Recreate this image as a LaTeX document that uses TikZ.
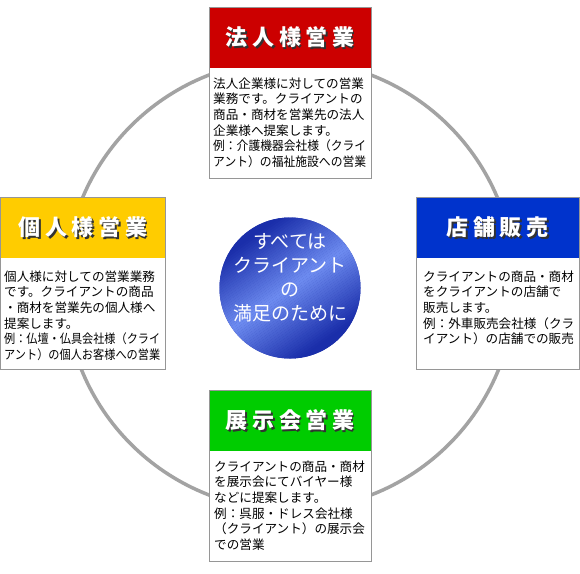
\documentclass[tikz,border=0pt]{standalone}
\usepackage{fontspec}
\usepackage{graphicx}
\newfontfamily\jp{Noto Sans CJK JP}
\definecolor{ringgray}{RGB}{163,163,163}
\definecolor{boxgray}{RGB}{150,150,150}
\definecolor{hred}{RGB}{204,0,0}
\definecolor{hyellow}{RGB}{255,204,0}
\definecolor{hblue}{RGB}{0,51,204}
\definecolor{hgreen}{RGB}{0,204,0}
\definecolor{shadowgray}{RGB}{50,50,50}
\definecolor{balldark}{RGB}{26,46,170}
\definecolor{balllight}{RGB}{110,140,240}
\newcommand\tg{\hspace{4.6pt}}
\newsavebox\flbox
\newcommand\fl[2][153pt]{\sbox\flbox{#2}\ifdim\wd\flbox>#1\relax\resizebox{#1}{\ht\flbox}{\usebox\flbox}\else\usebox\flbox\fi}
\begin{document}
\begin{tikzpicture}[x=1pt,y=-1pt,
  panel/.style={fill=white,inner sep=0pt,outer sep=0pt,anchor=north west,minimum width=162pt,minimum height=171pt},
  hdr/.style={fill=#1,inner sep=0pt,outer sep=0pt,anchor=north west,minimum width=162pt,minimum height=61pt},
  title/.style={text=white,font=\jp\bfseries\fontsize{22}{26}\selectfont,inner sep=0pt},
  tshadow/.style={text=shadowgray,font=\jp\bfseries\fontsize{22}{26}\selectfont,inner sep=0pt},
  body/.style={font=\jp\fontsize{12.6}{15.6}\selectfont,align=left,anchor=north west,inner sep=0pt,text=black},
  border/.style={draw=boxgray,line width=0.9pt},
  balltext/.style={text=white,font=\jp\fontsize{19}{24}\selectfont,align=center,inner sep=0pt}]
\useasboundingbox (0,0) rectangle (580,573);
\fill[white] (0,0) rectangle (580,573);
% ring
\node[circle,draw=ringgray,line width=3.5pt,minimum size=450pt,inner sep=0pt] (ring) at (290,285) {};
% top panel
\node[panel] (toppanel) at (209,7) {};
\node[hdr=hred] (tophdr) at (209,7) {};
\draw[border] (toppanel.north west) rectangle (toppanel.south east);
\node[tshadow] (topshadow) at ([shift={(1.8,1.8)}]tophdr.center) {法\tg 人\tg 様\tg 営\tg 業};
\node[title] (toptitle) at (tophdr.center) {法\tg 人\tg 様\tg 営\tg 業};
\node[body] (topbody) at (213,77.5) {\fl{法人企業様に対しての営業}\\\fl{業務です。クライアントの}\\\fl{商品・商材を営業先の法人}\\\fl{企業様へ提案します。}\\\fl{例：介護機器会社様（クライ}\\\fl{アント）の福祉施設への営業}};
% left panel
\node[panel,minimum width=165pt,minimum height=172pt] (leftpanel) at (0.5,197) {};
\node[hdr=hyellow,minimum width=165pt] (lefthdr) at (0.5,197) {};
\draw[border] (leftpanel.north west) rectangle (leftpanel.south east);
\node[tshadow] (leftshadow) at ([shift={(1.8,1.8)}]lefthdr.center) {個\tg 人\tg 様\tg 営\tg 業};
\node[title] (lefttitle) at (lefthdr.center) {個\tg 人\tg 様\tg 営\tg 業};
\node[body] (leftbody) at (4,270.5) {\fl[156pt]{個人様に対しての営業業務}\\\fl[156pt]{です。クライアントの商品}\\\fl[156pt]{・商材を営業先の個人様へ}\\\fl[156pt]{提案します。}\\\fl[156pt]{例：仏壇・仏具会社様（クライ}\\\fl[156pt]{アント）の個人お客様への営業}};
% right panel
\node[panel,minimum width=163pt,minimum height=172pt] (rightpanel) at (416,197) {};
\node[hdr=hblue,minimum width=163pt] (righthdr) at (416,197) {};
\draw[border] (rightpanel.north west) rectangle (rightpanel.south east);
\node[tshadow] (rightshadow) at ([shift={(1.8,1.8)}]righthdr.center) {店\tg 舗\tg 販\tg 売};
\node[title] (righttitle) at (righthdr.center) {店\tg 舗\tg 販\tg 売};
\node[body] (rightbody) at (423,270.5) {\fl[151pt]{クライアントの商品・商材}\\\fl[151pt]{をクライアントの店舗で}\\\fl[151pt]{販売します。}\\\fl[151pt]{例：外車販売会社様（クラ}\\\fl[151pt]{イアント）の店舗での販売}};
% bottom panel
\node[panel] (botpanel) at (209,390) {};
\node[hdr=hgreen] (bothdr) at (209,390) {};
\draw[border] (botpanel.north west) rectangle (botpanel.south east);
\node[tshadow] (botshadow) at ([shift={(1.8,1.8)}]bothdr.center) {展\tg 示\tg 会\tg 営\tg 業};
\node[title] (bottitle) at (bothdr.center) {展\tg 示\tg 会\tg 営\tg 業};
\node[body] (botbody) at (214,460.5) {\fl{クライアントの商品・商材}\\\fl{を展示会にてバイヤー様}\\\fl{などに提案します。}\\\fl{例：呉服・ドレス会社様}\\\fl{（クライアント）の展示会}\\\fl{での営業}};
% centre ball
\node[circle,minimum size=141pt,inner sep=0pt,fill=balldark] (ball) at (290,288) {};
\begin{scope}
  \clip (ball.center) circle (70.5);
  \foreach \i in {-40,...,39} {
    \pgfmathsetmacro\mix{max(0,100*(1-abs(\i+0.5)/28))}
    \fill[balllight!\mix!balldark, rotate around={35:(ball.center)}]
      ([shift={(-90,\i*2.25)}]ball.center) rectangle ([shift={(90,\i*2.25+2.4)}]ball.center);
  }
\end{scope}
\node[balltext] (slogan) at (290,278) {すべては\\クライアント\\の\\満足のために};
\end{tikzpicture}
\end{document}
